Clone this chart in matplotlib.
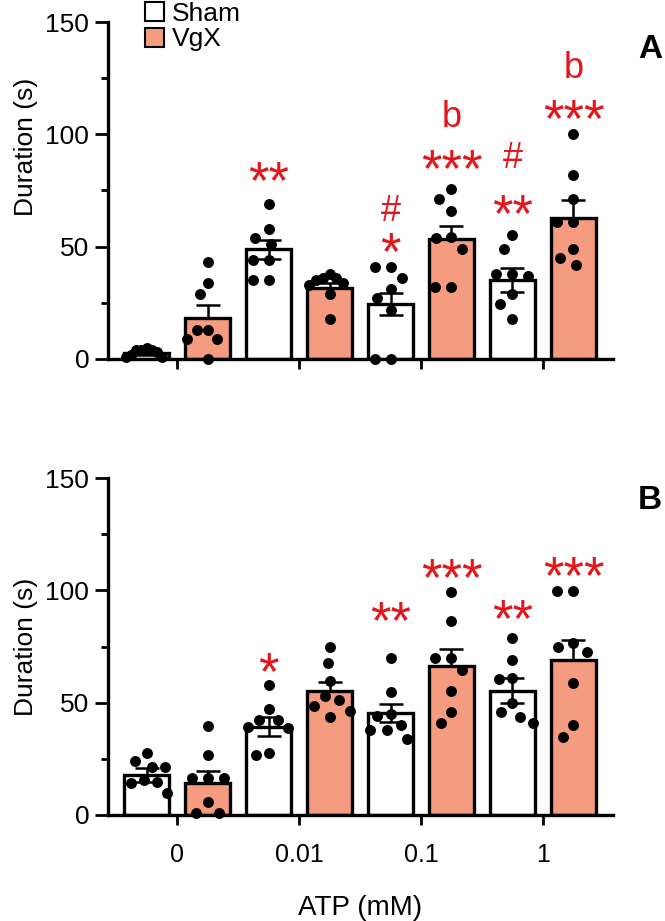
import numpy as np
import matplotlib
matplotlib.use("Agg")
import matplotlib.pyplot as plt
from matplotlib.patches import Patch
from matplotlib import transforms

plt.rcParams['font.family'] = ['Liberation Sans', 'DejaVu Sans']

# ---- data ----
doses = ["0", "0.01", "0.1", "1"]
groups = ["Sham", "VgX"]

# panel A, one list of 8 animals per bar, order: Sham0, VgX0, Sham0.01, VgX0.01, ...
pts_a = [
    [5, 4, 4, 4, 3, 2, 1, 1],
    [43, 34, 29, 13, 13, 9, 9, 0],
    [69, 58, 54, 51, 44, 44, 35, 35],
    [38, 36, 36, 35, 34, 33, 29, 18],
    [41, 41, 36, 31, 27, 22, 0, 0],
    [75.5, 71, 66, 54.5, 54, 49, 32, 32],
    [55, 49, 38, 38, 37, 29, 24.5, 17.7],
    [100, 82, 71, 61, 61, 49, 45, 42],
]
mean_a = [2.5, 18.4, 48.8, 31.5, 24.5, 53.3, 35.2, 62.9]
sem_a = [0.6, 5.6, 4.2, 2.2, 4.9, 5.9, 5.2, 7.9]

pts_b = [
    [27.7, 24.2, 21.2, 21.2, 15.6, 14.8, 14.1, 9.9],
    [39.7, 26.7, 16.3, 16.3, 16.3, 5.9, 1, 1],
    [57.9, 47, 42.3, 42.3, 39, 38.6, 27.7, 26.7],
    [74.9, 67.8, 59.8, 53, 51.2, 48.5, 46.4, 43.8],
    [69.7, 54.6, 45, 44.1, 40.1, 37.8, 37.8, 33.7],
    [99.4, 86.4, 69.7, 69.7, 64.5, 55.3, 46, 40.8],
    [78.6, 69, 61, 60.4, 49.7, 46, 43.8, 40.8],
    [99.8, 99.8, 76.6, 74.6, 72.7, 58.6, 40.1, 34.8],
]
mean_b = [17.8, 14.1, 39.3, 55.3, 45.3, 66.3, 55.3, 69.0]
sem_b = [3.1, 5.7, 4.1, 4.0, 4.1, 7.4, 5.5, 9.1]

# significance marks: (bar index, text, height)
marks_a = [(2, "**", 85), (4, "*", 53), (4, "#", 67), (5, "***", 90), (5, "b", 109),
           (6, "**", 70), (6, "#", 91), (7, "***", 112.6), (7, "b", 131)]
marks_b = [(2, "*", 69), (4, "**", 92), (5, "***", 111), (6, "**", 92.7), (7, "***", 112)]

SALMON = '#F59B80'
RED = '#E3161C'
W, H = 665, 921


def swarm(ax, xc, vals, d_px=16.0, max_off=0.165):
    """simple beeswarm: x offsets (data units) so dots don't overlap"""
    t = ax.transData
    xs = t.transform((1, 0))[0] - t.transform((0, 0))[0]
    ys = np.array([t.transform((0, v))[1] for v in vals])
    placed = []
    off = np.zeros(len(vals))
    for i in np.argsort(-np.array(vals), kind='stable'):
        y = ys[i]
        cands = [0.0]
        for (px, py) in placed:
            dy = abs(py - y)
            if dy < d_px:
                dx = np.sqrt(d_px ** 2 - dy ** 2)
                cands += [px - dx, px + dx]
        cands.sort(key=lambda c: (round(abs(c), 3), c))
        for c in cands:
            if all((c - px) ** 2 + (y - py) ** 2 >= d_px ** 2 - 1e-6 for (px, py) in placed):
                placed.append((c, y))
                off[i] = c / xs
                break
    m = np.abs(off).max()
    if m > max_off:
        off = off * max_off / m
    return xc + off


def panel(ax, pts, means, sems, marks, letter, show_x):
    xpos = []
    for g in range(len(doses)):
        xpos += [g - 0.25, g + 0.25]
    ax.set_xlim(-0.566, 3.574)
    ax.set_ylim(0, 150)

    for i, x in enumerate(xpos):
        is_sham = i % 2 == 0
        ax.bar(x, means[i], width=0.37, color='white' if is_sham else SALMON,
               edgecolor='black', linewidth=2.4, zorder=2)
        lo = sems[i] if is_sham else 0
        ax.errorbar(x, means[i], yerr=[[lo], [sems[i]]], fmt='none', ecolor='black',
                    elinewidth=1.8, capsize=8.5, capthick=1.8, zorder=3)
        xs = swarm(ax, x, pts[i])
        ax.scatter(xs, pts[i], s=62, color='black', zorder=4, clip_on=False, linewidths=0)

    for i, txt, yv in marks:
        if txt.startswith('*'):
            fs, frac = 38, 0.56
        else:
            fs, frac = 26, 0.36
        tr = transforms.offset_copy(ax.transData, fig=ax.figure, x=0, y=-frac * fs, units='points')
        ax.text(xpos[i], yv, txt, color=RED, fontsize=fs, ha='center', va='baseline',
                transform=tr, clip_on=False)

    for s in ['top', 'right']:
        ax.spines[s].set_visible(False)
    for s in ['left', 'bottom']:
        ax.spines[s].set_linewidth(2.4)

    ax.set_yticks([0, 50, 100, 150])
    ax.set_yticks([25, 75, 125], minor=True)
    ax.tick_params(axis='y', which='major', length=9.5, width=2, labelsize=19, pad=4)
    ax.tick_params(axis='y', which='minor', length=5, width=2)
    ax.set_xticks(range(len(doses)))
    ax.tick_params(axis='x', which='major', length=7, width=2, direction='out',
                   labelsize=18, pad=13)
    if show_x:
        ax.set_xticklabels(doses)
        ax.set_xlabel("ATP (mM)", fontsize=20, labelpad=20)
    else:
        ax.set_xticklabels([])
    ax.set_ylabel("Duration (s)", fontsize=19)
    ax.text(650 / W, 0, letter, transform=ax.figure.transFigure, fontsize=24,
            fontweight='bold', ha='center', va='center')


fig = plt.figure(figsize=(W / 100, H / 100), dpi=100)
ax_a = fig.add_axes([108 / W, 1 - 359 / H, 505 / W, 337 / H])
ax_b = fig.add_axes([108 / W, 1 - 815 / H, 505 / W, 337 / H])

panel(ax_a, pts_a, mean_a, sem_a, marks_a, "A", False)
panel(ax_b, pts_b, mean_b, sem_b, marks_b, "B", True)
ax_a.texts[-1].set_y(1 - 50 / H)
ax_b.texts[-1].set_y(1 - 500 / H)
ax_a.yaxis.set_label_coords(-0.139, 0.63)
ax_b.yaxis.set_label_coords(-0.139, 0.50)

handles = [Patch(facecolor='white', edgecolor='black', linewidth=1.5),
           Patch(facecolor=SALMON, edgecolor='black', linewidth=1.5)]
fig.legend(handles, groups, loc='upper left', bbox_to_anchor=(145 / W, 1 - 2 / H),
           frameon=False, fontsize=19, handlelength=0.72, handleheight=0.72,
           handletextpad=0.3, labelspacing=0.05, borderpad=0, borderaxespad=0)

fig.savefig("out.png", dpi=100)
